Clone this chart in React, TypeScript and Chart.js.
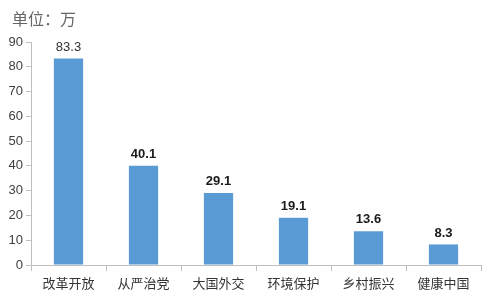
import React, { useEffect, useRef } from "react";
import { Chart, registerables } from "chart.js";

Chart.register(...registerables);

const categories = ["改革开放", "从严治党", "大国外交", "环境保护", "乡村振兴", "健康中国"];
const values = [83.3, 40.1, 29.1, 19.1, 13.6, 8.3];
const labelBold = [false, true, true, true, true, true];
const unitTitle = "单位：万";

const labelPlugin = {
  id: "labels",
  afterDatasetsDraw(chart: any) {
    const ctx = chart.ctx;
    const meta = chart.getDatasetMeta(0);
    ctx.save();
    ctx.textAlign = "center";
    ctx.textBaseline = "bottom";
    meta.data.forEach((bar: any, i: number) => {
      ctx.fillStyle = labelBold[i] ? "#1a1a1a" : "#333";
      ctx.font = (labelBold[i] ? "bold " : "") + "13px 'Liberation Sans', Arial, sans-serif";
      ctx.fillText(values[i].toFixed(1), bar.x, bar.y - 5);
    });
    ctx.font = "16px 'Noto Sans CJK SC', serif";
    ctx.fillStyle = "#666";
    ctx.textAlign = "left";
    ctx.textBaseline = "middle";
    ctx.fillText(unitTitle, 12, 19);
    ctx.restore();
  },
};

export default function App() {
  const ref = useRef<HTMLCanvasElement>(null);
  useEffect(() => {
    const chart = new Chart(ref.current!, {
      type: "bar",
      data: {
        labels: categories,
        datasets: [
          {
            data: values,
            backgroundColor: "#5b9bd5",
            borderWidth: 0,
            categoryPercentage: 1,
            barPercentage: 0.39,
          },
        ],
      },
      options: {
        animation: false,
        responsive: false,
        layout: { padding: { top: 42, right: 19, left: 0, bottom: 0 } },
        plugins: { legend: { display: false }, tooltip: { enabled: false } },
        scales: {
          x: {
            grid: { offset: true, drawOnChartArea: false, tickLength: 6, color: "#bfbfbf" },
            border: { color: "#bfbfbf" },
            ticks: {
              color: "#333",
              padding: 4,
              font: { size: 13, family: "'Noto Sans CJK SC', sans-serif" },
              maxRotation: 0,
            },
            afterFit(s: any) { s.height = 39; },
          },
          y: {
            min: 0,
            max: 90,
            ticks: {
              stepSize: 10,
              color: "#404040",
              padding: 3,
              font: { size: 13, family: "'Liberation Sans', Arial, sans-serif" },
            },
            grid: { drawOnChartArea: false, tickLength: 5, color: "#bfbfbf" },
            border: { color: "#bfbfbf" },
            afterFit(s: any) { s.width = 31; },
          },
        },
      },
      plugins: [labelPlugin],
    });
    return () => chart.destroy();
  }, []);
  return (
    <div style={{ position: "fixed", left: 0, top: 0, width: 500, height: 304, background: "#fff" }}>
      <canvas ref={ref} width={500} height={304} />
    </div>
  );
}
